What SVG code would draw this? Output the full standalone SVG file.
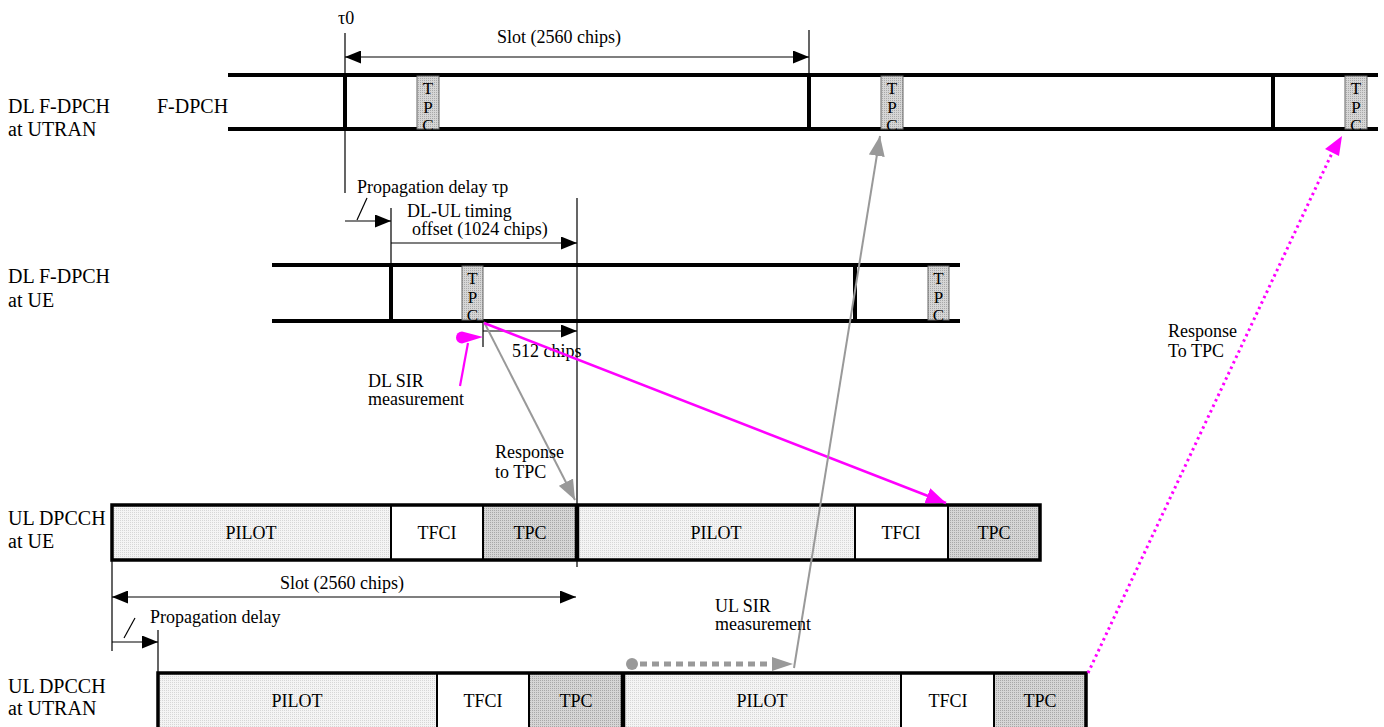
<svg xmlns="http://www.w3.org/2000/svg" width="1384" height="727" viewBox="0 0 1384 727">
<defs>
<marker id="ab" markerUnits="userSpaceOnUse" markerWidth="16" markerHeight="13" refX="16" refY="6.5" orient="auto-start-reverse"><path d="M0,0 L16,6.5 L0,13 z" fill="#000"/></marker>
<marker id="ag" markerUnits="userSpaceOnUse" markerWidth="20" markerHeight="16" refX="20" refY="8" orient="auto"><path d="M0,0 L20,8 L0,16 z" fill="#999"/></marker>
<marker id="ap" markerUnits="userSpaceOnUse" markerWidth="20" markerHeight="16" refX="20" refY="8" orient="auto"><path d="M0,0 L20,8 L0,16 z" fill="#ff00ff"/></marker>
<pattern id="pp" width="2" height="2" patternUnits="userSpaceOnUse"><rect width="2" height="2" fill="#f4f4f4"/><rect width="1" height="1" fill="#d6d6d6"/></pattern>
<pattern id="pt" width="2" height="2" patternUnits="userSpaceOnUse"><rect width="2" height="2" fill="#d6d6d6"/><rect width="1" height="1" fill="#a8a8a8"/></pattern>
<style>
text{font-family:"Liberation Serif","Times New Roman",serif;fill:#000}
.lbl{font-size:20px}
.t{font-size:18px}
.tc{font-size:17px;writing-mode:vertical-rl;text-orientation:upright;letter-spacing:-0.5px}
.bx{font-size:18px;text-anchor:middle}
.dl{stroke:#000;stroke-width:4;fill:none}
.thin{stroke:#000;stroke-width:1.2;fill:none}
.tpcv{fill:url(#pt);stroke:#666;stroke-width:1}
.pil{fill:url(#pp);stroke:none}
.tpc{fill:url(#pt);stroke:none}
.div{stroke:#000;stroke-width:2}
.out{fill:none;stroke:#000;stroke-width:3.5}
.sb{stroke:#000;stroke-width:4.5}
</style>
</defs>

<g id="labels">
<text class="lbl" x="8" y="113">DL F-DPCH</text>
<text class="lbl" x="8" y="136">at UTRAN</text>
<text class="lbl" x="157" y="113">F-DPCH</text>
<text class="lbl" x="8" y="283">DL F-DPCH</text>
<text class="lbl" x="8" y="307">at UE</text>
<text class="lbl" x="8" y="525">UL DPCCH</text>
<text class="lbl" x="8" y="548">at UE</text>
<text class="lbl" x="8" y="693">UL DPCCH</text>
<text class="lbl" x="8" y="715">at UTRAN</text>
</g>

<g id="dl-utran">
<path class="dl" d="M228,75 H1378 M228,129 H1378 M345,73 V131 M809,73 V131 M1273,73 V131"/>
<rect class="tpcv" x="417" y="76" width="22" height="53"/>
<rect class="tpcv" x="881" y="76" width="22" height="53"/>
<rect class="tpcv" x="1345" y="76" width="22" height="53"/>
<text class="tc" x="428" y="79">TPC</text>
<text class="tc" x="892" y="79">TPC</text>
<text class="tc" x="1356" y="79">TPC</text>
</g>

<g id="dl-ue">
<path class="dl" d="M272,265 H960 M272,321 H960 M391,263 V323 M855,263 V323"/>
<rect class="tpcv" x="462" y="266" width="21" height="54"/>
<rect class="tpcv" x="928" y="266" width="21" height="54"/>
<text class="tc" x="472.5" y="269">TPC</text>
<text class="tc" x="938.5" y="269">TPC</text>
</g>

<g id="ul-ue">
<rect class="pil" x="112" y="505" width="279" height="55"/>
<rect x="391" y="505" width="92" height="55" fill="#fff"/>
<rect class="tpc" x="483" y="505" width="93" height="55"/>
<rect class="pil" x="578" y="505" width="277" height="55"/>
<rect x="855" y="505" width="93" height="55" fill="#fff"/>
<rect class="tpc" x="948" y="505" width="92" height="55"/>
<rect class="out" x="112" y="505" width="928" height="55"/>
<path class="div" d="M391,505 V560 M483,505 V560 M855,505 V560 M948,505 V560"/>
<path class="sb" d="M577,505 V560"/>
<text class="bx" x="251" y="539">PILOT</text>
<text class="bx" x="437" y="539">TFCI</text>
<text class="bx" x="530" y="539">TPC</text>
<text class="bx" x="716" y="539">PILOT</text>
<text class="bx" x="901" y="539">TFCI</text>
<text class="bx" x="994" y="539">TPC</text>
</g>

<g id="ul-utran">
<rect class="pil" x="158" y="673" width="279" height="57"/>
<rect x="437" y="673" width="92" height="57" fill="#fff"/>
<rect class="tpc" x="529" y="673" width="93" height="57"/>
<rect class="pil" x="624" y="673" width="277" height="57"/>
<rect x="901" y="673" width="93" height="57" fill="#fff"/>
<rect class="tpc" x="994" y="673" width="92" height="57"/>
<rect class="out" x="158" y="673" width="928" height="57"/>
<path class="div" d="M437,673 V730 M529,673 V730 M901,673 V730 M994,673 V730"/>
<path class="sb" d="M623,673 V730"/>
<text class="bx" x="297" y="707">PILOT</text>
<text class="bx" x="483" y="707">TFCI</text>
<text class="bx" x="576" y="707">TPC</text>
<text class="bx" x="762" y="707">PILOT</text>
<text class="bx" x="948" y="707">TFCI</text>
<text class="bx" x="1040" y="707">TPC</text>
</g>

<g id="timing">
<path class="thin" d="M345,33 V193 M809,30 V75 M391,208 V265 M577,198 V567 M483,321 V347 M112,560 V651 M158,630 V673"/>
<line class="thin" x1="345" y1="57" x2="809" y2="57" marker-start="url(#ab)" marker-end="url(#ab)"/>
<line class="thin" x1="345" y1="221" x2="391" y2="221" marker-end="url(#ab)"/>
<line class="thin" x1="357" y1="220" x2="367" y2="198"/>
<line class="thin" x1="391" y1="243" x2="577" y2="243" marker-end="url(#ab)"/>
<line class="thin" x1="483" y1="331" x2="577" y2="331" marker-end="url(#ab)"/>
<line class="thin" x1="112" y1="597" x2="576" y2="597" marker-start="url(#ab)" marker-end="url(#ab)"/>
<line class="thin" x1="112" y1="642" x2="158" y2="642" marker-end="url(#ab)"/>
<line class="thin" x1="124" y1="638" x2="135" y2="618"/>
<text class="t" x="338" y="24">τ0</text>
<text class="t" x="497" y="43">Slot (2560 chips)</text>
<text class="t" x="357" y="193">Propagation delay τp</text>
<text class="t" x="407" y="217">DL-UL timing</text>
<text class="t" x="412" y="235">offset (1024 chips)</text>
<text class="t" x="512" y="357">512 chips</text>
<text class="t" x="280" y="589">Slot (2560 chips)</text>
<text class="t" x="150" y="623">Propagation delay</text>
</g>

<g id="connectors">
<path d="M483,337 L462,331.5 A6,6 0 1 0 462,343.5 Z" fill="#ff00ff"/>
<line x1="468" y1="343" x2="460" y2="386" stroke="#ff00ff" stroke-width="2.2"/>
<line x1="484" y1="322" x2="575" y2="500" stroke="#999" stroke-width="2" marker-end="url(#ag)"/>
<line x1="484" y1="323" x2="946" y2="503" stroke="#ff00ff" stroke-width="2.5" marker-end="url(#ap)"/>
<circle cx="632" cy="664" r="6" fill="#999"/>
<line x1="640" y1="664" x2="776" y2="664" stroke="#999" stroke-width="5" stroke-dasharray="7,5"/>
<path d="M772,657 L793,664 L772,671 Z" fill="#999"/>
<line x1="794" y1="668" x2="880" y2="136" stroke="#999" stroke-width="2" marker-end="url(#ag)"/>
<line x1="1088" y1="673" x2="1333" y2="151" stroke="#ff00ff" stroke-width="3" stroke-dasharray="2.5,3.5"/>
<path d="M1342,136 L1325,149 L1339,156 Z" fill="#ff00ff"/>
<text class="t" x="368" y="387">DL SIR</text>
<text class="t" x="368" y="405">measurement</text>
<text class="t" x="495" y="458">Response</text>
<text class="t" x="495" y="478">to TPC</text>
<text class="t" x="715" y="612">UL SIR</text>
<text class="t" x="715" y="630">measurement</text>
<text class="t" x="1168" y="337">Response</text>
<text class="t" x="1168" y="357">To TPC</text>
</g>
</svg>
